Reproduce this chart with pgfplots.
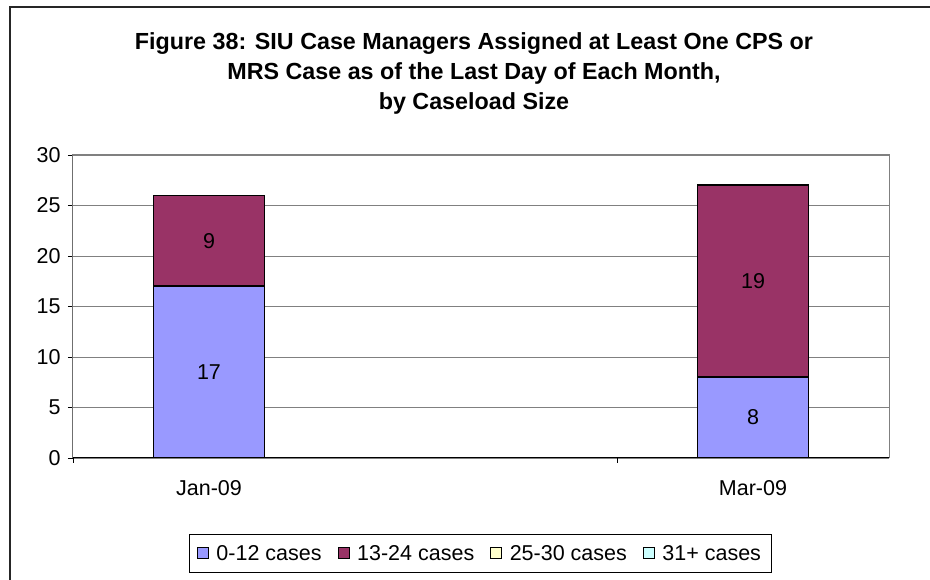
\documentclass[border=0pt]{standalone}
\usepackage{pgfplots}
\pgfplotsset{compat=1.18}
\usepackage{pgfplotstable}
\usepackage{fontspec}
\setmainfont{Liberation Sans}
\definecolor{cA}{HTML}{9999FF}
\definecolor{cB}{HTML}{993366}
\definecolor{cC}{HTML}{FFFFCC}
\definecolor{cD}{HTML}{CCFFFF}
\definecolor{gridg}{HTML}{808080}
\pgfplotstableread{
x a b
0 17 9
2 8 19
}\data
\pgfplotstableread{
x ymid lab
0 8.5 17
0 21.5 9
2 4 8
2 17.5 19
}\labels
\begin{document}
\begin{tikzpicture}[x=1pt,y=1pt]
\useasboundingbox (0,0) rectangle (930,580);
\begin{scope}
\clip (0,0) rectangle (930,580);
\draw[line width=2pt, black!85] (10,-10) -- (10,573) -- (940,573);
\end{scope}
\node[align=center, font=\bfseries\fontsize{23.3}{30}\selectfont] at (474,507) {Figure 38: SIU Case Managers Assigned at Least One CPS or\\MRS Case as of the Last Day of Each Month,\\by Caseload Size};
\begin{axis}[
  at={(73pt,122pt)}, anchor=south west,
  scale only axis, width=816pt, height=303pt,
  xmin=-0.5, xmax=2.5, ymin=0, ymax=30,
  ybar stacked, bar width=111pt,
  ytick={0,5,...,30},
  ymajorgrids, grid style={gridg, line width=0.8pt},
  xtick={-0.5,1.5}, xticklabels={},
  extra x ticks={0,2}, extra x tick labels={Jan-09,Mar-09},
  extra x tick style={major tick length=0pt, grid=none},
  tick align=outside, major tick length=5pt,
  tick style={black, line width=0.8pt},
  xtick pos=bottom, ytick pos=left,
  axis line style={gridg, line width=1pt},
  /pgf/number format/assume math mode=true,
  tick label style={font=\fontsize{21.5}{24}\selectfont},
  xticklabel style={yshift=-19pt},
  yticklabel style={xshift=-4pt},
  legend style={at={(0.4988,-0.315)}, anchor=center, draw=black, line width=0.8pt,
    font=\fontsize{21.5}{24}\selectfont, legend columns=4,
    /tikz/every even column/.append style={column sep=14pt},
    /tikz/every odd column/.append style={column sep=5.5pt},
    inner xsep=8pt, inner ysep=9pt},
  legend image code/.code={\draw[#1, line width=1pt, draw=black] (0pt,-5.5pt) rectangle (11pt,5.5pt);},
]
\addplot[fill=cA, draw=black, line width=1.6pt] table[x=x, y=a] {\data};
\addlegendentry{0-12 cases}
\addplot[fill=cB, draw=black, line width=1.6pt] table[x=x, y=b] {\data};
\addlegendentry{13-24 cases}
\addlegendimage{fill=cC}
\addlegendentry{25-30 cases}
\addlegendimage{fill=cD}
\addlegendentry{31+ cases}
\draw[black, line width=1pt] (rel axis cs:0,1) -- (rel axis cs:0,0) -- (rel axis cs:1,0);
\end{axis}
\begin{axis}[
  at={(73pt,122pt)}, anchor=south west,
  scale only axis, width=816pt, height=303pt,
  xmin=-0.5, xmax=2.5, ymin=0, ymax=30,
  hide axis,
]
\addplot[draw=none, mark=none, nodes near coords, point meta=explicit symbolic,
  every node near coord/.style={anchor=center, font=\fontsize{21.5}{24}\selectfont, black}]
  table[x=x, y=ymid, meta=lab] {\labels};
\end{axis}
\end{tikzpicture}
\end{document}
